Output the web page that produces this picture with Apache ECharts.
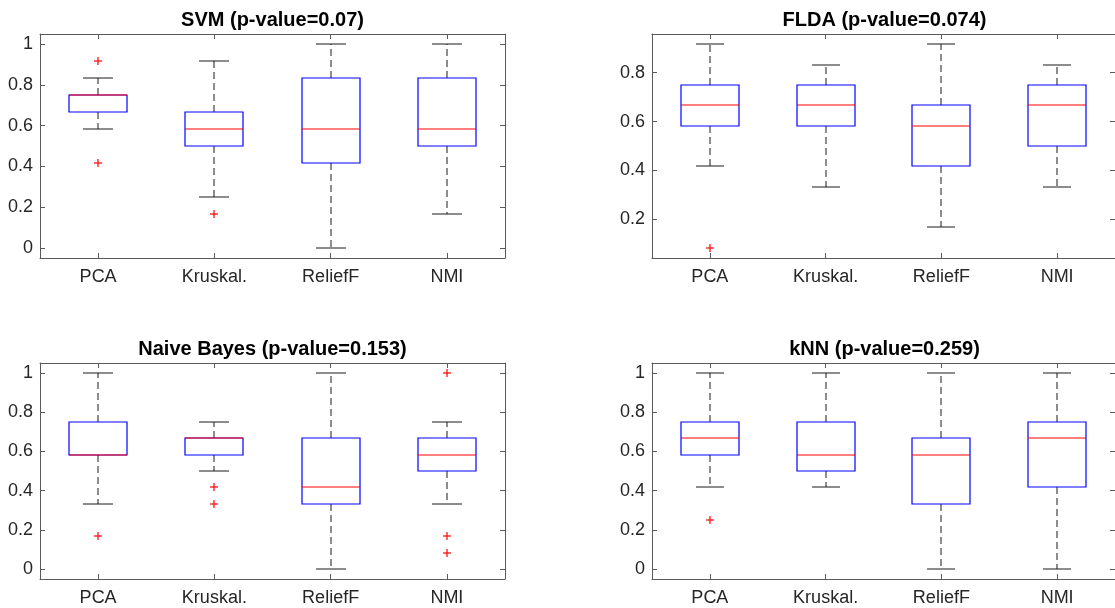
<!DOCTYPE html>
<html><head><meta charset="utf-8">
<script src="https://cdn.jsdelivr.net/npm/echarts@6/dist/echarts.min.js"></script>
<style>html,body{margin:0;padding:0;background:#fff}#c{width:1115px;height:608px}</style>
</head><body><div id="c"></div>
<script>
// ---------- data ----------
const categories = ['PCA', 'Kruskal.', 'ReliefF', 'NMI'];
const titles = ['SVM (p-value=0.07)', 'FLDA (p-value=0.074)', 'Naive Bayes (p-value=0.153)', 'kNN (p-value=0.259)'];

// each box: [lower whisker, Q1, median, Q3, upper whisker]
const svmBoxes = [[0.5833, 0.6667, 0.75, 0.75, 0.8333], [0.25, 0.5, 0.5833, 0.6667, 0.9167], [0, 0.4167, 0.5833, 0.8333, 1], [0.1667, 0.5, 0.5833, 0.8333, 1]];
const svmOutliers = [[0, 0.9167], [0, 0.4167], [1, 0.1667]];

const fldaBoxes = [[0.4167, 0.5833, 0.6667, 0.75, 0.9167], [0.3333, 0.5833, 0.6667, 0.75, 0.8333], [0.1667, 0.4167, 0.5833, 0.6667, 0.9167], [0.3333, 0.5, 0.6667, 0.75, 0.8333]];
const fldaOutliers = [[0, 0.0833]];

const nbBoxes = [[0.3333, 0.5833, 0.5833, 0.75, 1], [0.5, 0.5833, 0.6667, 0.6667, 0.75], [0, 0.3333, 0.4167, 0.6667, 1], [0.3333, 0.5, 0.5833, 0.6667, 0.75]];
const nbOutliers = [[0, 0.1667], [1, 0.4167], [1, 0.3333], [3, 1], [3, 0.1667], [3, 0.0833]];

const knnBoxes = [[0.4167, 0.5833, 0.6667, 0.75, 1], [0.4167, 0.5, 0.5833, 0.75, 1], [0, 0.3333, 0.5833, 0.6667, 1], [0, 0.4167, 0.6667, 0.75, 1]];
const knnOutliers = [[0, 0.25]];

const yTicksFull = [0, 0.2, 0.4, 0.6, 0.8, 1];
const yTicksFlda = [0.2, 0.4, 0.6, 0.8];
const yRangeFull = [-0.05, 1.05];
const yRangeFlda = [0.0417, 0.9583];

// ---------- layout / style ----------
const FONT = '"Liberation Sans", Arial, Helvetica, sans-serif';
const AXIS_COLOR = '#5a5a5a';
const TEXT_COLOR = '#262626';
const layouts = [
  { left: 40, top: 34, width: 465, height: 224, titleX: 272.5, titleTop: 10 },
  { left: 652, top: 34, width: 465, height: 224, titleX: 884.5, titleTop: 10 },
  { left: 40, top: 363, width: 465, height: 216, titleX: 272.5, titleTop: 339 },
  { left: 652, top: 363, width: 465, height: 216, titleX: 884.5, titleTop: 339 }
];
const panelData = [
  { boxes: svmBoxes, outliers: svmOutliers, range: yRangeFull, ticks: yTicksFull },
  { boxes: fldaBoxes, outliers: fldaOutliers, range: yRangeFlda, ticks: yTicksFlda },
  { boxes: nbBoxes, outliers: nbOutliers, range: yRangeFull, ticks: yTicksFull },
  { boxes: knnBoxes, outliers: knnOutliers, range: yRangeFull, ticks: yTicksFull }
];

const px = v => Math.round(v);

function renderBox(params, api) {
  const i = api.value(0);
  const lo = api.coord([i, api.value(1)]);
  const q1 = api.coord([i, api.value(2)]);
  const md = api.coord([i, api.value(3)]);
  const q3 = api.coord([i, api.value(4)]);
  const hi = api.coord([i, api.value(5)]);
  const band = api.size([1, 0])[0];
  const bw = band * 0.25, cw = band * 0.125;
  const x = px(lo[0]);
  const yLo = px(lo[1]), yQ1 = px(q1[1]), yMd = px(md[1]), yQ3 = px(q3[1]), yHi = px(hi[1]);
  const xl = px(x - bw), xr = px(x + bw);
  const children = [];
  if (yHi < yQ3) children.push({ type: 'line', shape: { x1: x, y1: yQ3, x2: x, y2: yHi }, style: { stroke: '#1a1a1a', lineWidth: 1, lineDash: [7, 4] } });
  if (yLo > yQ1) children.push({ type: 'line', shape: { x1: x, y1: yQ1, x2: x, y2: yLo }, style: { stroke: '#1a1a1a', lineWidth: 1, lineDash: [7, 4] } });
  children.push({ type: 'line', shape: { x1: px(x - cw), y1: yHi, x2: px(x + cw), y2: yHi }, style: { stroke: '#1a1a1a', lineWidth: 1 } });
  children.push({ type: 'line', shape: { x1: px(x - cw), y1: yLo, x2: px(x + cw), y2: yLo }, style: { stroke: '#1a1a1a', lineWidth: 1 } });
  children.push({ type: 'rect', shape: { x: xl, y: yQ3, width: xr - xl, height: yQ1 - yQ3 }, style: { fill: 'none', stroke: '#0000ff', lineWidth: 1.2 } });
  children.push({ type: 'line', shape: { x1: xl, y1: yMd, x2: xr, y2: yMd }, style: { stroke: '#ff0000', lineWidth: 1.2 } });
  return { type: 'group', children };
}

function renderOutlier(params, api) {
  const p = api.coord([api.value(0), api.value(1)]);
  const x = px(p[0]), y = px(p[1]), h = 4;
  return { type: 'group', children: [
    { type: 'line', shape: { x1: x - h, y1: y, x2: x + h, y2: y }, style: { stroke: '#ff0000', lineWidth: 1.2 } },
    { type: 'line', shape: { x1: x, y1: y - h, x2: x, y2: y + h }, style: { stroke: '#ff0000', lineWidth: 1.2 } }
  ] };
}

const option = { animation: false, backgroundColor: '#fff', title: [], grid: [], xAxis: [], yAxis: [], series: [] };

layouts.forEach((L, g) => {
  const D = panelData[g];
  option.title.push({
    text: titles[g], left: L.titleX, top: L.titleTop, textAlign: 'center', padding: 0,
    textStyle: { fontFamily: FONT, fontSize: 20, fontWeight: 'bold', color: '#000' }
  });
  option.grid.push({ left: L.left, top: L.top, width: L.width, height: L.height, containLabel: false });
  const xBase = {
    type: 'category', data: categories, gridIndex: g, boundaryGap: true,
    axisLine: { show: true, onZero: false, lineStyle: { color: AXIS_COLOR, width: 1 } },
    axisTick: { show: true, inside: true, length: 5, alignWithLabel: true, lineStyle: { color: AXIS_COLOR } },
    splitLine: { show: false }
  };
  option.xAxis.push(Object.assign({}, xBase, {
    position: 'bottom',
    axisLabel: { show: true, margin: 10, fontFamily: FONT, fontSize: 18, color: TEXT_COLOR }
  }));
  option.xAxis.push(Object.assign({}, xBase, { position: 'top', axisLabel: { show: false } }));
  const yBase = {
    type: 'value', gridIndex: g, min: D.range[0], max: D.range[1],
    axisLine: { show: true, onZero: false, lineStyle: { color: AXIS_COLOR, width: 1 } },
    axisTick: { show: true, inside: true, length: 5, customValues: D.ticks, lineStyle: { color: AXIS_COLOR } },
    splitLine: { show: false }
  };
  option.yAxis.push(Object.assign({}, yBase, {
    position: 'left',
    axisLabel: { show: true, margin: 7, customValues: D.ticks, fontFamily: FONT, fontSize: 18, color: TEXT_COLOR }
  }));
  option.yAxis.push(Object.assign({}, yBase, { position: 'right', axisLabel: { show: false } }));

  option.series.push({
    type: 'custom', xAxisIndex: g * 2, yAxisIndex: g * 2, renderItem: renderBox, clip: false,
    encode: { x: 0, y: [1, 2, 3, 4, 5] },
    data: D.boxes.map((b, i) => [i].concat(b))
  });
  option.series.push({
    type: 'custom', xAxisIndex: g * 2, yAxisIndex: g * 2, renderItem: renderOutlier, clip: false,
    encode: { x: 0, y: 1 },
    data: D.outliers
  });
});

const chart = echarts.init(document.getElementById('c'), null, { renderer: 'canvas' });
chart.setOption(option);
</script></body></html>
